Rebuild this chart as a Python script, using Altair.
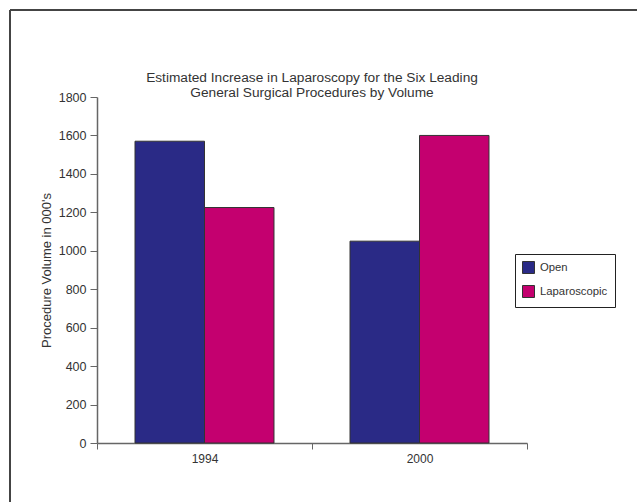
import altair as alt
import pandas as pd

years = ["1994", "1994", "2000", "2000"]
series = ["Open", "Laparoscopic", "Open", "Laparoscopic"]
values = [1570, 1225, 1050, 1600]
series_order = ["Open", "Laparoscopic"]
series_colors = ["#2A2A86", "#C4006F"]
y_ticks = [0, 200, 400, 600, 800, 1000, 1200, 1400, 1600, 1800]

df = pd.DataFrame({"Year": years, "Series": series, "Value": values})

FONT = "Liberation Sans"
TXT = "#333333"
AX = "#666666"

bars = alt.Chart(df).mark_bar(stroke="#333333", strokeWidth=1).encode(
    x=alt.X("Year:N", title=None,
            scale=alt.Scale(paddingInner=0, paddingOuter=0),
            axis=alt.Axis(labelAngle=0, tickBand="extent", tickSize=6,
                          labelPadding=4, domainColor=AX, tickColor=AX,
                          labelColor=TXT, labelFontSize=12, labelFont=FONT,
                          domainWidth=1.5)),
    xOffset=alt.XOffset("Series:N", sort=series_order,
                        scale=alt.Scale(paddingInner=0, paddingOuter=0.547)),
    y=alt.Y("Value:Q", title="Procedure Volume in 000's",
            scale=alt.Scale(domain=[0, 1800], nice=False),
            axis=alt.Axis(values=y_ticks, format="d", grid=False, tickSize=7, labelPadding=4,
                          domainColor=AX, tickColor=AX,
                          labelColor=TXT, labelFontSize=12.5, labelFont=FONT,
                          titleFont=FONT, titleFontSize=13, titleFontWeight="normal",
                          titleColor=TXT, titlePadding=5, domainWidth=1.5)),
    color=alt.Color("Series:N", sort=series_order,
                    scale=alt.Scale(domain=series_order, range=series_colors),
                    legend=alt.Legend(title=None, orient="none", legendX=418, legendY=157,
                                      symbolType="square", symbolSize=144,
                                      symbolStrokeColor="#333333", symbolStrokeWidth=1,
                                      labelFont=FONT, labelFontSize=11.3, labelColor=TXT,
                                      strokeColor="#222222", padding=7, rowPadding=7,
                                      labelOffset=5, fillColor="white")),
)

frame_data = alt.Data(values=[{}])
frame_left = alt.Chart(frame_data).mark_rule(color="#444444", strokeWidth=2).encode(
    x=alt.value(-87), y=alt.value(-87), y2=alt.value(420))
frame_top = alt.Chart(frame_data).mark_rule(color="#444444", strokeWidth=2).encode(
    x=alt.value(-87), x2=alt.value(560), y=alt.value(-87))

chart = alt.layer(frame_left, frame_top, bars).properties(
    width=430, height=346,
    title=alt.TitleParams(
        ["Estimated Increase in Laparoscopy for the Six Leading",
         "General Surgical Procedures by Volume"],
        font=FONT, fontSize=13.7, fontWeight="normal", color=TXT,
        anchor="middle", offset=0, dy=91, lineHeight=15.5),
    autosize=alt.AutoSizeParams(type="none"),
    padding={"left": 97, "top": 97, "right": 110, "bottom": 59},
).configure(background="white").configure_view(stroke=None)

chart.save("out.html", embed_options={"renderer": "svg", "actions": False})
